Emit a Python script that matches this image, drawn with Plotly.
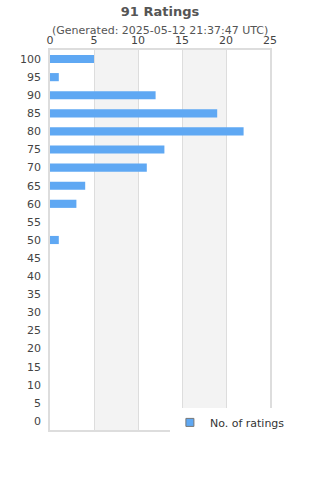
import plotly.graph_objects as go

ratings = ["0","5","10","15","20","25","30","35","40","45","50","55","60","65","70","75","80","85","90","95","100"]
counts = [0,0,0,0,0,0,0,0,0,0,1,0,3,4,11,13,22,19,12,1,5]
x_ticks = [0,5,10,15,20,25]

fig = go.Figure()
fig.add_trace(go.Bar(
    x=counts, y=ratings, orientation="h",
    name="No. of ratings",
    marker=dict(color="#5fa8f3", line=dict(width=0)),
    showlegend=False,
))
fig.add_trace(go.Scatter(
    x=[None], y=[None], mode="markers", name="No. of ratings",
    marker=dict(symbol="square", size=8, color="#5fa8f3", line=dict(color="#777", width=1)),
    showlegend=True,
))

shapes = []
for a, b in [(5, 10), (15, 20)]:
    shapes.append(dict(type="rect", xref="x", yref="paper", x0=a, x1=b, y0=0, y1=1,
                       fillcolor="#f3f3f3", line=dict(width=0), layer="below"))

fig.update_layout(
    width=320, height=480,
    margin=dict(l=50, r=50, t=50, b=50),
    paper_bgcolor="white", plot_bgcolor="white",
    font=dict(family="DejaVu Sans", color="#444", size=11),
    title=dict(text="<b>91 Ratings</b>", x=0.5, xanchor="center", y=0.977, yanchor="middle",
               font=dict(size=13, color="#555")),
    bargap=0.55,
    shapes=shapes,
    xaxis=dict(side="top", range=[0, 25], tickvals=x_ticks, showgrid=True, gridcolor="#dddddd",
               zeroline=False, showline=True, linecolor="#dddddd", linewidth=1.5, mirror=True, ticks="",
               ticklen=0, tickfont=dict(size=11, color="#444")),
    yaxis=dict(categoryorder="array", categoryarray=ratings, showgrid=False, zeroline=False,
               showline=True, linecolor="#dddddd", linewidth=1.5, mirror=True, ticks="outside", ticklen=5,
               tickcolor="white", tickfont=dict(size=11, color="#444")),
    legend=dict(x=0.545, y=0.02, xanchor="left", yanchor="middle", bgcolor="white",
                font=dict(size=11, color="#333")),
    annotations=[dict(text="(Generated: 2025-05-12 21:37:47 UTC)", xref="paper", yref="paper",
                      x=0.5, y=1, yshift=20, xanchor="center", yanchor="middle", showarrow=False,
                      font=dict(size=11, color="#555"))],
)

fig.write_html("out.html")
